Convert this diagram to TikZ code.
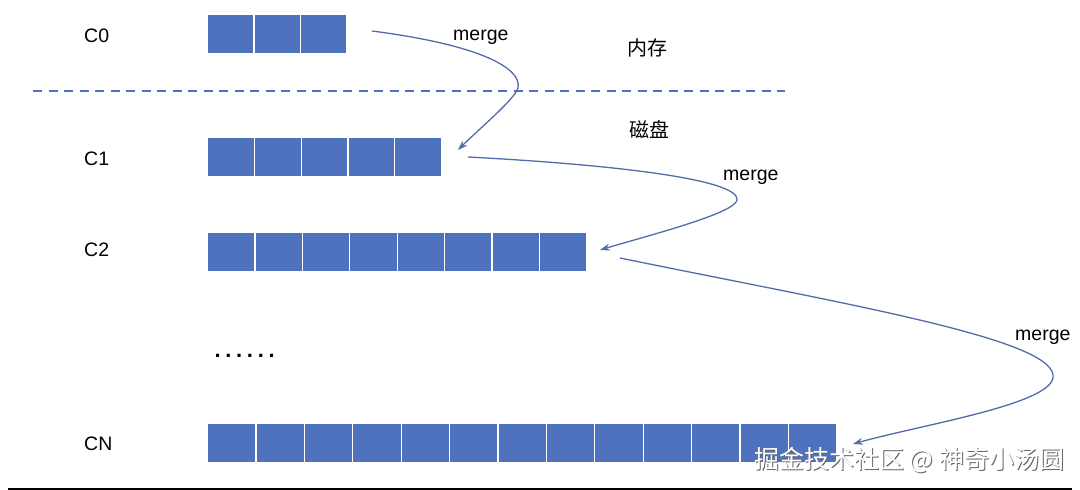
\documentclass[tikz,border=0pt]{standalone}
\usepackage{fontspec}
\setmainfont{Liberation Sans}
\newfontfamily\cjk{Noto Sans CJK SC}
\usetikzlibrary{arrows.meta}
\definecolor{cellblue}{RGB}{79,114,190}
\definecolor{arrowblue}{RGB}{84,106,170}
\newcommand\cellrow[4]{%
  \foreach \i in {1,...,#3}{%
    \node[cell, minimum width=#4pt, anchor=north west] (#1-\i) at ({207+(\i-1)*#4}, #2) {};
  }%
}
\newcommand\onedot{\makebox[10.8pt][c]{\textbf{.}}}
\begin{document}
\begin{tikzpicture}[x=1pt,y=-1pt,
  cell/.style={fill=cellblue, draw=white, line width=1.2pt, minimum height=39pt, inner sep=0pt},
  lbl/.style={font=\fontsize{19.5}{22}\selectfont, anchor=base west, inner sep=0pt},
  cjklbl/.style={font=\cjk\fontsize{20}{22}\selectfont, inner sep=0pt},
  mergearrow/.style={draw=arrowblue, line width=1.3pt, -{Stealth[length=10pt,width=7pt]}},
  divider/.style={draw=cellblue, line width=1.5pt, dash pattern=on 9pt off 6.5pt}
]
\useasboundingbox (0,0) rectangle (1080,490);

% rows of cells
\cellrow{c0}{14}{3}{46.33}
\cellrow{c1}{137}{5}{46.8}
\cellrow{c2}{232}{8}{47.4}
\cellrow{cn}{423}{13}{48.4}

% row labels
\node[lbl] (l0) at (84,42) {C0};
\node[lbl] (l1) at (84,165) {C1};
\node[lbl] (l2) at (84,256) {C2};
\node[lbl] (ln) at (84,450) {CN};
\node[lbl, font=\fontsize{22}{24}\selectfont] (dots) at (212,357) {\onedot\onedot\onedot\onedot\onedot\onedot};

% memory / disk
\coordinate (dl) at (33,91);
\coordinate (dr) at (785,91);
\draw[divider] (dl) -- (dr);
\node[cjklbl] (mem) at (647,48) {内存};
\node[cjklbl] (disk) at (649,130) {磁盘};

% merge labels
\node[lbl] (m1) at (453,40) {merge};
\node[lbl] (m2) at (723,180) {merge};
\node[lbl] (m3) at (1015,340) {merge};

% merge arrows
\coordinate (a1s) at (372,31);
\coordinate (a1e) at (458,150);
\coordinate (a2s) at (468,157);
\coordinate (a2e) at (600,250);
\coordinate (a3s) at (620,258);
\coordinate (a3e) at (853,444);
\draw[mergearrow] (a1s) .. controls (480,45) and (522,68) .. (518,88)
  .. controls (514,100) and (480,128) .. (a1e);
\draw[mergearrow] (a2s) .. controls (620,165) and (740,180) .. (737,200)
  .. controls (735,213.3) and (650,235) .. (a2e);
\draw[mergearrow] (a3s) .. controls (850,305) and (1060,340) .. (1053,378)
  .. controls (1048,405) and (920,425) .. (a3e);

% bottom rule
\coordinate (bl) at (8,489);
\coordinate (br) at (1072,489);
\draw[black, line width=1.8pt] (bl) -- (br);

% watermark
\node[font=\cjk\fontsize{25}{27}\selectfont, text=black!60, anchor=west, inner sep=0pt] (wms) at (755,461) {掘金技术社区 @ 神奇小汤圆};
\node[font=\cjk\fontsize{25}{27}\selectfont, text=white, anchor=west, inner sep=0pt] (wm) at (754,460) {掘金技术社区 @ 神奇小汤圆};
\end{tikzpicture}
\end{document}
